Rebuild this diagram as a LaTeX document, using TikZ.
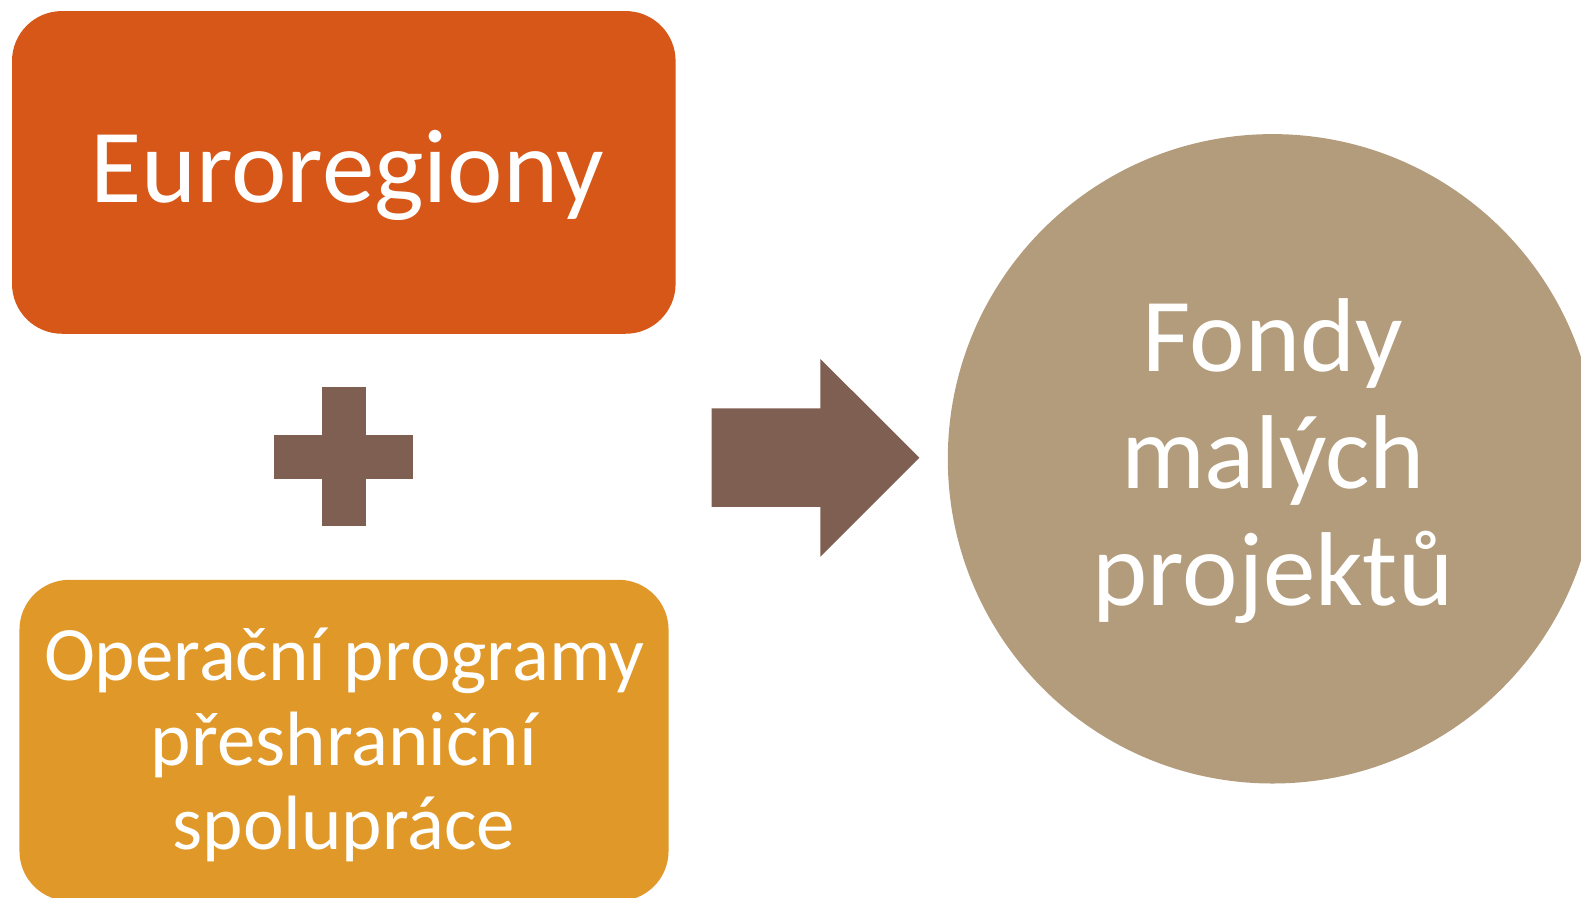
\documentclass[tikz,border=0pt]{standalone}
\usepackage{fontspec}
\setmainfont{Carlito}
\definecolor{euroorange}{RGB}{214,87,23}
\definecolor{opgold}{RGB}{224,152,40}
\definecolor{signbrown}{RGB}{127,95,82}
\definecolor{fondtan}{RGB}{179,156,124}
\begin{document}
\begin{tikzpicture}[x=1pt, y=-1pt,
    box/.style={rounded corners=50pt, inner sep=0pt, outer sep=0pt},
    bigtext/.style={text=white, inner sep=0pt, font=\fontsize{105}{117}\selectfont},
    smalltext/.style={text=white, inner sep=0pt, align=center, font=\fontsize{77}{84.7}\selectfont}]
    \useasboundingbox (0,0) rectangle (1581,897);

    % boxes on the left
    \node[box, fill=euroorange, minimum width=663.6pt, minimum height=322.7pt] (euro) at (343.8,172.4) {};
    \node[bigtext, anchor=base] (eurotext) at (347,202.7) {Euroregiony};

    \node[box, fill=opgold, minimum width=649.1pt, minimum height=321.2pt] (op) at (344,740.4) {};
    \node[smalltext] (optext) at (344,745) {Operační programy\\přeshraniční\\spolupráce};

    % plus sign
    \fill[signbrown] (274.3,434.6) rectangle (413.4,479);
    \fill[signbrown] (321.7,387.2) rectangle (366,526.3);

    % arrow
    \fill[signbrown] (711.7,408.4) -- (820.4,408.4) -- (820.4,359) -- (919.4,457.7)
        -- (820.4,556.7) -- (820.4,506.9) -- (711.7,506.9) -- cycle;

    % circle on the right
    \node[circle, fill=fondtan, minimum size=649.4pt, inner sep=0pt] (fondy) at (1272.5,458.8) {};
    \node[bigtext, align=center] (fondytext) at (1273,461.5) {Fondy\\malých\\projektů};
\end{tikzpicture}
\end{document}
